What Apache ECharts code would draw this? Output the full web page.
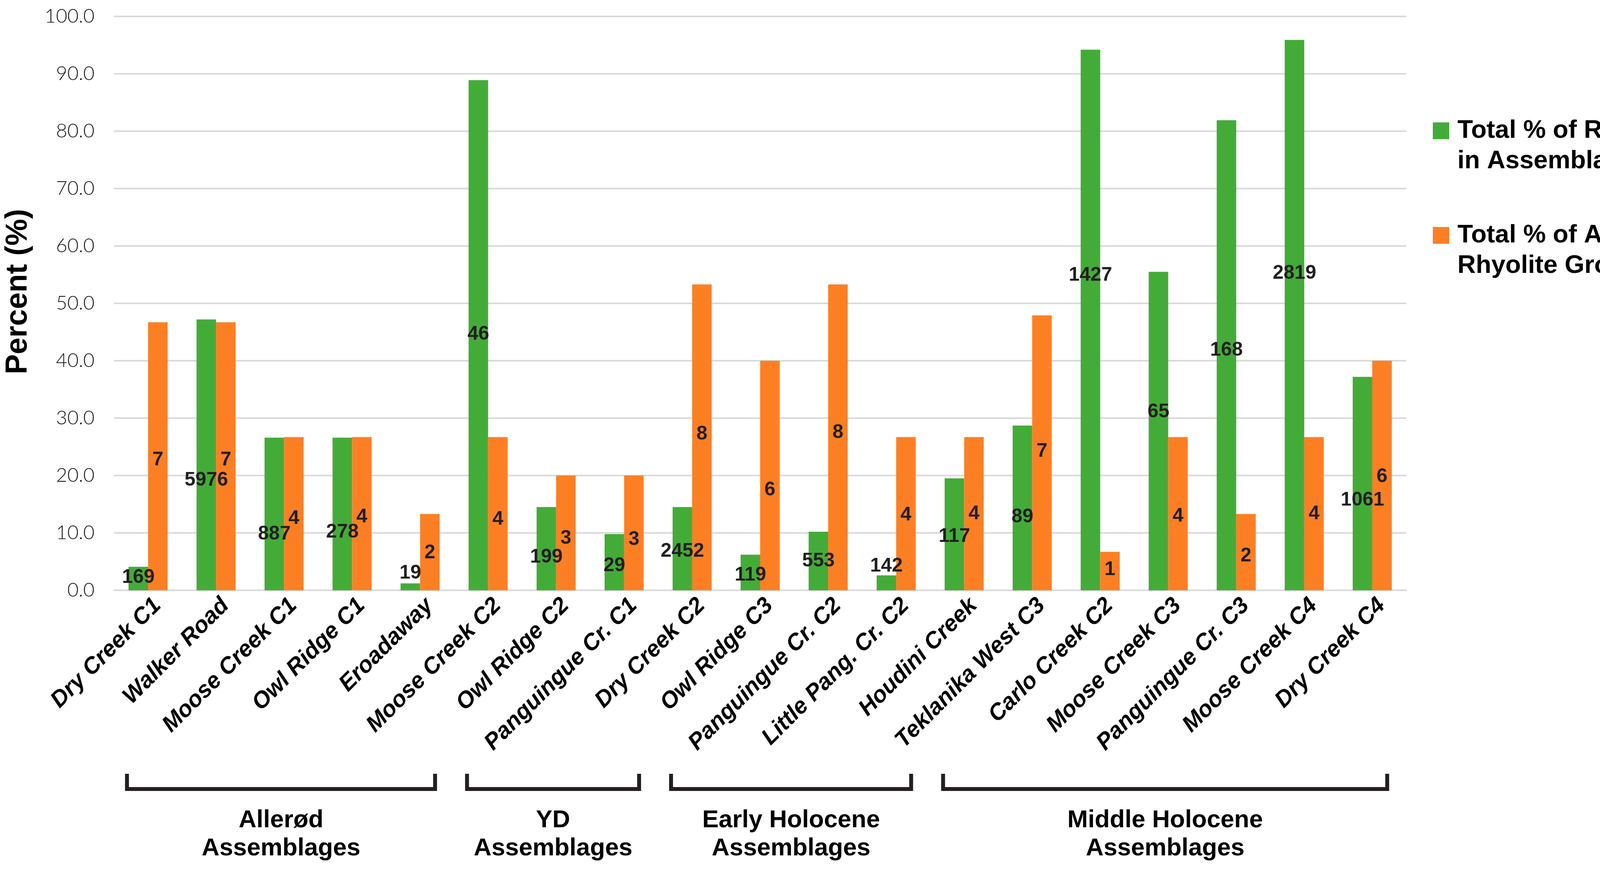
<!DOCTYPE html>
<html>
<head>
<meta charset="utf-8">
<script src="https://cdn.jsdelivr.net/npm/echarts@6/dist/echarts.min.js"></script>
<style>
html,body{margin:0;padding:0;background:#fff;}
#c{width:4335px;height:2231px;}
</style>
</head>
<body>
<div id="c"></div>
<script>
// ---- data ----
const categories = ['Dry Creek C1','Walker Road','Moose Creek C1','Owl Ridge C1','Eroadaway','Moose Creek C2','Owl Ridge C2','Panguingue Cr. C1','Dry Creek C2','Owl Ridge C3','Panguingue Cr. C2','Little Pang. Cr. C2','Houdini Creek','Teklanika West C3','Carlo Creek C2','Moose Creek C3','Panguingue Cr. C3','Moose Creek C4','Dry Creek C4'];
const rhyoliteInAssemblage = [4.1, 47.2, 26.6, 26.6, 1.2, 88.9, 14.5, 9.8, 14.5, 6.2, 10.2, 2.6, 19.5, 28.7, 94.2, 55.5, 81.9, 95.9, 37.2];
const allRhyoliteGroups = [46.7, 46.7, 26.7, 26.7, 13.3, 26.7, 20.0, 20.0, 53.3, 40.0, 53.3, 26.7, 26.7, 47.9, 6.7, 26.7, 13.3, 26.7, 40.0];
const assemblageCounts = [169, 5976, 887, 278, 19, 46, 199, 29, 2452, 119, 553, 142, 117, 89, 1427, 65, 168, 2819, 1061];
const groupCounts = [7, 7, 4, 4, 2, 4, 3, 3, 8, 6, 8, 4, 4, 7, 1, 4, 2, 4, 6];
const yTicks = {min: 0, max: 100, step: 10};
const groups = [
  {label: 'Allerød\nAssemblages', first: 0, last: 4},
  {label: 'YD\nAssemblages', first: 5, last: 7},
  {label: 'Early Holocene\nAssemblages', first: 8, last: 11},
  {label: 'Middle Holocene\nAssemblages', first: 12, last: 18}
];
// label placement (value level where each data label sits)
const greenLabelLevel = [2.2, 19.2, 9.8, 10.1, 3.0, 44.6, 5.8, 4.3, 6.8, 2.65, 5.1, 4.2, 9.4, 12.8, 54.9, 31.1, 41.8, 55.2, 15.7];
const orangeLabelLevel = [22.7, 22.7, 12.5, 12.8, 6.5, 12.4, 9.0, 8.8, 27.2, 17.5, 27.5, 13.1, 13.3, 24.2, 3.6, 12.9, 6.0, 13.3, 19.8];

// ---- layout ----
const GRID = {left: 291, right: 735, top: 42, bottom: 719};
const plotH = 2231 - GRID.top - GRID.bottom;
const pxPerUnit = plotH / (yTicks.max - yTicks.min);
const GREEN = '#43AC38', ORANGE = '#FD7F24', INK = '#231f20';
const FONT = 'Liberation Sans, Arial, sans-serif';

const chart = echarts.init(document.getElementById('c'), null, {renderer: 'canvas'});

function items(vals, levels) {
  return vals.map((v, i) => ({
    value: v,
    label: {offset: [0, -(levels[i] - v / 2) * pxPerUnit]}
  }));
}

const labelStyle = {
  show: true, position: 'inside', color: INK, fontSize: 50, fontWeight: 'bold', fontFamily: FONT
};

chart.setOption({
  animation: false,
  backgroundColor: '#ffffff',
  grid: GRID,
  legend: {
    orient: 'vertical', left: 3663, top: 213, itemWidth: 42, itemHeight: 43, itemGap: 34,
    icon: 'rect',
    formatter: name => '\n' + name,
    textStyle: {fontSize: 65, fontWeight: 'bold', color: '#000', lineHeight: 78,
      fontFamily: FONT, padding: [0, 0, 0, 16]},
    data: ['Total % of Rhyolite\nin Assemblage', 'Total % of All\nRhyolite Groups']
  },
  xAxis: {
    type: 'category', data: categories,
    axisTick: {show: false},
    axisLine: {lineStyle: {color: '#d9d9d9', width: 4}},
    axisLabel: {interval: 0, rotate: 45, margin: 54, fontSize: 59, fontWeight: 'bold', fontStyle: 'italic',
      color: '#000', fontFamily: FONT, padding: [0, -34, 0, 0]}
  },
  yAxis: {
    type: 'value', min: yTicks.min, max: yTicks.max, interval: yTicks.step,
    name: 'Percent (%)', nameLocation: 'middle', nameGap: 207,
    nameTextStyle: {fontSize: 77, fontWeight: 'bold', color: '#000', fontFamily: FONT, padding: [0, 0, 0, 60]},
    axisLine: {show: false}, axisTick: {show: false},
    axisLabel: {formatter: v => v.toFixed(1), fontSize: 50, margin: 50, color: '#1a1a1a',
      fontFamily: 'Lato, Noto Sans, sans-serif', fontWeight: 300},
    splitLine: {lineStyle: {color: '#d9d9d9', width: 4}}
  },
  series: [
    {
      name: 'Total % of Rhyolite\nin Assemblage', type: 'bar', barWidth: 50, barGap: '0%',
      itemStyle: {color: GREEN},
      label: Object.assign({}, labelStyle, {formatter: p => String(assemblageCounts[p.dataIndex])}),
      data: items(rhyoliteInAssemblage, greenLabelLevel)
    },
    {
      name: 'Total % of All\nRhyolite Groups', type: 'bar', barWidth: 50, barGap: '0%',
      itemStyle: {color: ORANGE},
      label: Object.assign({}, labelStyle, {formatter: p => String(groupCounts[p.dataIndex])}),
      data: items(allRhyoliteGroups, orangeLabelLevel)
    }
  ]
});

// group brackets under the axis, positioned from the category scale
const catW = (4335 - GRID.left - GRID.right) / categories.length;
const graphics = [];
groups.forEach(g => {
  const x1 = chart.convertToPixel({xAxisIndex: 0}, g.first) - 0.31 * catW;
  const x2 = chart.convertToPixel({xAxisIndex: 0}, g.last) + 0.22 * catW;
  const yTop = 1982, yBot = 2021;
  graphics.push({
    type: 'polyline',
    shape: {points: [[x1, yTop], [x1, yBot], [x2, yBot], [x2, yTop]]},
    style: {stroke: INK, lineWidth: 10, fill: null, lineJoin: 'miter'}
  });
  graphics.push({
    type: 'text', x: (x1 + x2) / 2, y: 2138,
    style: {text: g.label, fill: '#000', fontSize: 63, fontWeight: 'bold', lineHeight: 72,
      fontFamily: FONT, align: 'center', verticalAlign: 'middle'}
  });
});
chart.setOption({graphic: graphics});
</script>
</body>
</html>
